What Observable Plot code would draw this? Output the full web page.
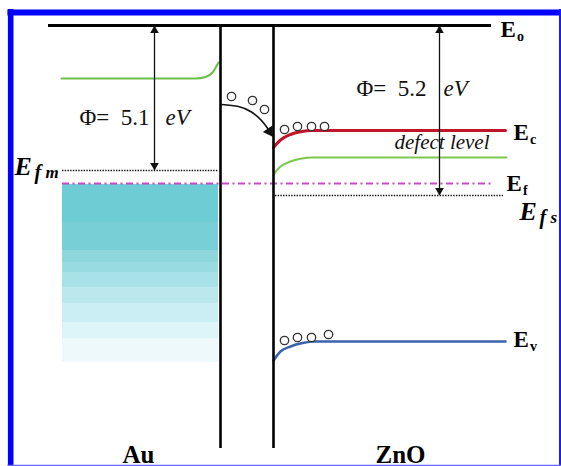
<!DOCTYPE html>
<html><head><meta charset="utf-8">
<script src="https://cdn.jsdelivr.net/npm/d3@7"></script>
<script src="https://cdn.jsdelivr.net/npm/@observablehq/plot@0.6"></script>
<style>body{margin:0;background:#fff;} svg{display:block} svg text{font-family:"Liberation Serif","Times New Roman",serif;}</style>
</head><body><div id="chart"></div>
<script>
// Schematic band diagram, Au / ZnO junction. x: position, y: energy level position (top = vacuum).
const W = 561, H = 466;
const vacuumLevel = 25;
const vacuumSpan = [48, 491];
const barrierX = [220, 273];
const barrierBottom = 448;

// band curves [x, y]
const auConduction = [[61,78],[195,78],[205,76.5],[212,72],[218,62]];
const znoConduction = [[273,147],[280,139.5],[290,134],[300,131.3],[312,130],[505,130]];
const znoDefect = [[273,174],[280,166],[290,161],[300,158.3],[312,157],[506,157]];
const znoValence = [[273,360],[280,351],[290,346],[302,342.5],[315,341],[505,341]];
const injectionPath = [[221,104],[238,106],[251,111.5],[261,120],[268,129]];
const injectionTip = [[269,131]];

// Fermi levels
const fermiNames = ["Efm", "Efs"];
const fermiY = [170, 195];
const fermiX1 = [62, 275];
const fermiX2 = [218, 503];
const equilibriumFermiY = 183;
const equilibriumFermiSpan = [62, 493];

// Au filled states (Fermi sea)
const seaSpan = [62, 218];
const seaEdges = [184, 222, 250, 262, 272, 287, 303, 322, 338, 362];
const seaColors = ["#6ecdd4", "#78d0d6", "#8cd6dc", "#98dbe1", "#a8e1e7", "#bae8ed", "#cbeef4", "#ddf4f9", "#eef9fc"];

// electrons
const electronX = [231, 252, 264, 284, 297, 311, 324, 284, 297, 311, 328];
const electronY = [96, 100, 109, 129, 126, 126, 126, 340, 337, 337, 334];

// work functions
const phiX = [154, 439];
const phiTop = [25, 25];
const phiBottom = [170, 195];
const phiValue = ["5.1", "5.2"];
const phiTextX = [79, 356];
const phiUnitX = [165, 443];
const phiTextY = [124, 95];

// band labels E_o, E_c, E_f, E_v
const bandSub = ["o", "c", "f", "v"];
const bandLabelX = [500, 513, 506, 513];
const bandLabelY = [36, 139, 190, 346];

const materials = ["Au", "ZnO"];
const materialX = [138, 400];
const materialY = 462;

const serif = "'Liberation Serif', 'Times New Roman', serif";
const fermi = fermiNames.map((n, i) => ({n, y: fermiY[i], x1: fermiX1[i], x2: fermiX2[i]}));
const sea = seaColors.map((c, i) => ({c, x1: seaSpan[0], x2: seaSpan[1], y1: seaEdges[i], y2: seaEdges[i + 1]}));
const electrons = electronX.map((x, i) => ({x, y: electronY[i]}));
const phi = phiX.map((x, i) => ({x, y1: phiTop[i], y2: phiBottom[i], v: phiValue[i], tx: phiTextX[i], ux: phiUnitX[i], ty: phiTextY[i]}));
const bands = bandSub.map((s, i) => ({s, x: bandLabelX[i], y: bandLabelY[i]}));
const mats = materials.map((m, i) => ({m, x: materialX[i], y: materialY}));
const line = (data, stroke, strokeWidth, curve = "monotone-x") =>
  Plot.line(data, {x: d => d[0], y: d => d[1], stroke, strokeWidth, curve});

const chart = Plot.plot({
  width: W, height: H, margin: 0,
  x: {domain: [0, W], axis: null},
  y: {domain: [0, H], reverse: true, axis: null},
  color: {type: "identity"},
  style: {background: "white", fontFamily: serif},
  marks: [
    Plot.rect(sea, {x1: "x1", x2: "x2", y1: "y1", y2: "y2", fill: "c"}),
    line(auConduction, "#6cc04a", 2),
    line(znoDefect, "#7cc84e", 2),
    line(znoConduction, "#c0162c", 3),
    line(znoValence, "#3a64ad", 2.6),
    Plot.ruleY(fermi, {y: "y", x1: "x1", x2: "x2", stroke: "#111", strokeWidth: 1.4, strokeDasharray: "1.4,1.3"}),
    Plot.ruleY([equilibriumFermiY], {x1: equilibriumFermiSpan[0], x2: equilibriumFermiSpan[1], stroke: "#c94bc4", strokeWidth: 1.8, strokeDasharray: "7,3.5,2,3.5"}),
    Plot.ruleY([vacuumLevel], {x1: vacuumSpan[0], x2: vacuumSpan[1], stroke: "#000", strokeWidth: 3}),
    Plot.ruleX(barrierX, {y1: vacuumLevel, y2: barrierBottom, stroke: "#000", strokeWidth: 2.6}),
    Plot.ruleX(phi, {x: "x", y1: "y1", y2: "y2", stroke: "#111", strokeWidth: 1.3}),
    Plot.dot(phi, {x: "x", y: "y1", symbol: "triangle", r: 3.2, fill: "#111", dy: 5}),
    Plot.dot(phi, {x: "x", y: "y2", symbol: "triangle", r: 3.2, fill: "#111", dy: -5, rotate: 180}),
    line(injectionPath, "#111", 1.7, "natural"),
    Plot.dot(injectionTip, {x: d => d[0], y: d => d[1], symbol: "triangle", r: 4.3, fill: "#111", rotate: 146}),
    Plot.dot(electrons, {x: "x", y: "y", r: 4.2, fill: "white", stroke: "#333", strokeWidth: 1.3}),
    Plot.text(phi, {x: "tx", y: "ty", text: d => "Φ=\u00a0\u00a0" + d.v, textAnchor: "start", lineAnchor: "bottom", fontSize: 23, fontFamily: serif, fill: "#111"}),
    Plot.text(phi, {x: "ux", y: "ty", text: () => "eV", textAnchor: "start", lineAnchor: "bottom", fontSize: 23, fontStyle: "italic", fontFamily: serif, fill: "#111"}),
    Plot.text(["defect level"], {x: 394, y: 148, text: d => d, textAnchor: "start", lineAnchor: "bottom", fontSize: 21, fontStyle: "italic", fontFamily: serif, fill: "#111"}),
    Plot.text(bands, {x: "x", y: "y", text: () => "E", textAnchor: "start", lineAnchor: "bottom", fontSize: 23, fontWeight: "bold", fontFamily: serif, fill: "#000"}),
    Plot.text(bands, {x: "x", y: "y", text: "s", dx: 16.5, dy: 4, textAnchor: "start", lineAnchor: "bottom", fontSize: 14, fontWeight: "bold", fontFamily: serif, fill: "#000"}),
    // E_f m and E_f s
    Plot.text([{x: 14, y: 174}, {x: 519, y: 219}], {x: "x", y: "y", text: () => "E", textAnchor: "start", lineAnchor: "bottom", fontSize: 26, fontWeight: "bold", fontStyle: "italic", fontFamily: serif, fill: "#000"}),
    Plot.text([{x: 14, y: 174}, {x: 519, y: 219}], {x: "x", y: "y", text: () => "f", dx: 20, dy: 4, textAnchor: "start", lineAnchor: "bottom", fontSize: 20, fontWeight: "bold", fontStyle: "italic", fontFamily: serif, fill: "#000"}),
    Plot.text([{x: 14, y: 174, t: "m"}, {x: 519, y: 219, t: "s"}], {x: "x", y: "y", text: "t", dx: 31, dy: 3, textAnchor: "start", lineAnchor: "bottom", fontSize: 17, fontWeight: "bold", fontStyle: "italic", fontFamily: serif, fill: "#000"}),
    Plot.text(mats, {x: "x", y: "y", text: "m", lineAnchor: "bottom", fontSize: 25, fontWeight: "bold", fontFamily: serif, fill: "#000"}),
    // frame
    Plot.ruleX([10.2], {y1: 9, y2: H, stroke: "#0000ff", strokeWidth: 5.6}),
    Plot.ruleY([12], {x1: 7.4, x2: W, stroke: "#0000ff", strokeWidth: 6}),
    Plot.ruleX([559.8], {y1: 9, y2: H, stroke: "#1a1aff", strokeWidth: 2.6}),
    Plot.ruleY([465.2], {x1: 7.4, x2: W, stroke: "#6a6aff", strokeWidth: 1.8})
  ]
});
document.getElementById("chart").appendChild(chart);
</script>
</body></html>
